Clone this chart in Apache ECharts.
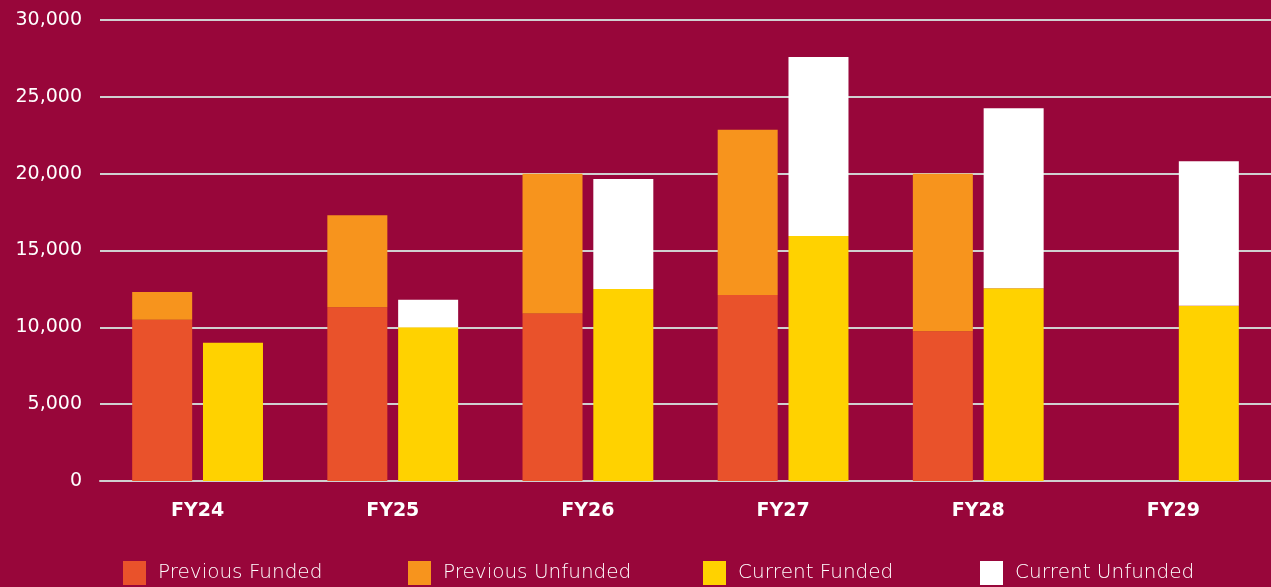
<!DOCTYPE html>
<html>
<head>
<meta charset="utf-8">
<script src="https://cdn.jsdelivr.net/npm/echarts@6/dist/echarts.min.js"></script>
<style>
  html, body { margin: 0; padding: 0; background: #98063a; }
  #main { width: 1271px; height: 587px; }
</style>
</head>
<body>
<div id="main"></div>
<script>
// values
var years = ['FY24', 'FY25', 'FY26', 'FY27', 'FY28', 'FY29'];
var seriesNames = ['Previous Funded', 'Previous Unfunded', 'Current Funded', 'Current Unfunded'];
var prevFunded   = [10500, 11300, 10900, 12100,  9750, null];
var prevUnfunded = [ 1800,  6000,  9100, 10750, 10250, null];
var currFunded   = [ 9000, 10000, 12500, 15950, 12550, 11400];
var currUnfunded = [ null,  1800,  7150, 11650, 11700,  9400];

var fontFam = '"DejaVu Sans", sans-serif';
var legendLefts = [123, 408, 703, 980];

var myChart = echarts.init(document.getElementById('main'));

// one legend per item so each sits where the original puts it
var legends = seriesNames.map(function (n, i) {
    return {
        data: [n],
        top: 561,
        left: legendLefts[i],
        padding: 0,
        itemWidth: 23,
        itemHeight: 24,
        icon: 'rect',
        textStyle: {
            color: '#fff', fontSize: 20, fontWeight: 200, fontFamily: fontFam,
            padding: [0, 0, 0, 7]
        }
    };
});

var option = {
    backgroundColor: '#98063a',
    animation: false,
    textStyle: { fontFamily: fontFam },
    grid: { left: 100, right: 0, top: 20, bottom: 106 },
    legend: legends,
    xAxis: {
        type: 'category',
        data: years,
        axisTick: { show: false },
        axisLine: { lineStyle: { color: '#d0d0d0', width: 2 } },
        axisLabel: { color: '#fff', fontSize: 19, fontWeight: 'bold', margin: 21 }
    },
    yAxis: {
        type: 'value',
        min: 0,
        max: 30000,
        interval: 5000,
        axisLine: { show: false },
        axisTick: { show: false },
        splitLine: { lineStyle: { color: '#d0d0d0', width: 2 } },
        axisLabel: {
            color: '#fff', fontSize: 19, margin: 18,
            formatter: function (v) { return v.toLocaleString('en-US'); }
        }
    },
    series: [
        { name: seriesNames[0], type: 'bar', stack: 'prev', barWidth: 60, barGap: '18%',
          itemStyle: { color: '#e9522b' }, data: prevFunded },
        { name: seriesNames[1], type: 'bar', stack: 'prev',
          itemStyle: { color: '#f7941d' }, data: prevUnfunded },
        { name: seriesNames[2], type: 'bar', stack: 'curr', barWidth: 60,
          itemStyle: { color: '#ffd200' }, data: currFunded },
        { name: seriesNames[3], type: 'bar', stack: 'curr',
          itemStyle: { color: '#ffffff' }, data: currUnfunded }
    ]
};

myChart.setOption(option);
</script>
</body>
</html>
